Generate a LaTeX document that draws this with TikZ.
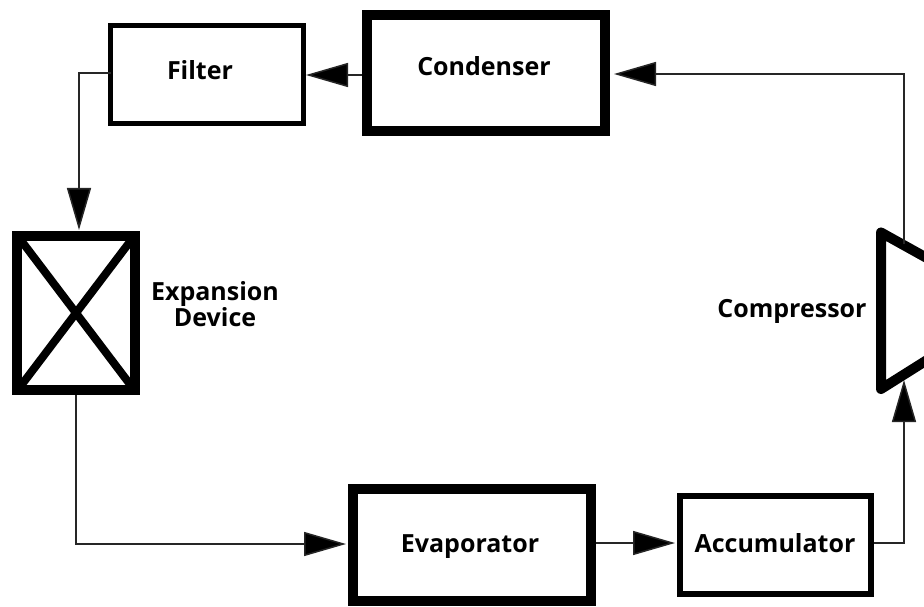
\documentclass[tikz,border=0pt]{standalone}
\usepackage{fontspec}
\setmainfont{Open Sans}
\usetikzlibrary{arrows.meta}

\begin{document}
\begin{tikzpicture}[x=1pt,y=-1pt,
  thinbox/.style={draw=black,line width=5pt,fill=white},
  thickbox/.style={draw=black,line width=10pt,fill=white},
  lbl/.style={font=\fontsize{25}{26}\selectfont\bfseries,anchor=base,inner sep=0pt},
  flow/.style={draw=black!85,line width=1.5pt,
    -{Triangle[length=42pt,width=24pt,fill=black]}},
]
\clip (0,0) rectangle (924,607);
\fill[white] (0,0) rectangle (924,607);

% components (corners at the centre line of each border)
\path[thinbox]  (110.5,25.5) rectangle (303.5,123.5);
\coordinate (filter-w) at (110.5,73);
\coordinate (filter-e) at (306,75);
\node[lbl] (filter) at (200,80) {Filter};

\path[thickbox] (367,15) rectangle (605,131);
\coordinate (cond-w) at (362,75);
\coordinate (cond-e) at (614,74);
\node[lbl] (condenser) at (484,76) {Condenser};

\path[thickbox] (17,236) rectangle (135,390);
\draw[line width=8pt] (20,239) -- (132,387) (132,239) -- (20,387);
\coordinate (exp-n) at (79,230);
\coordinate (exp-s) at (76,395);
\node[lbl,align=center] (expansion) at (215,326) {Expansion\\Device};

\path[thickbox] (353,489) rectangle (591,601);
\coordinate (evap-w) at (346,544);
\coordinate (evap-e) at (596,543);
\node[lbl] (evaporator) at (470,552) {Evaporator};

\path[draw=black,line width=6pt,fill=white] (680,496) rectangle (871,594);
\coordinate (acc-w) at (675,543);
\coordinate (acc-e) at (874,543);
\node[lbl] (accumulator) at (775,552) {Accumulator};

% compressor: trapezoid widening to the left
\draw[line width=10pt,line join=round,line cap=round,fill=white]
  (970,282) -- (881,232.5) -- (881,389) -- (970,333);
\coordinate (comp-out) at (904,244);
\coordinate (comp-in) at (904,380);
\node[lbl] (compressor) at (792,317) {Compressor};

% refrigerant loop
\coordinate (c1) at (79,73);
\coordinate (c2) at (76,544);
\coordinate (c3) at (904,543);
\coordinate (c4) at (904,74);
\draw[flow] (cond-w) -- (filter-e);
\draw[flow] (filter-w) -- (c1) -- (exp-n);
\draw[flow] (exp-s) -- (c2) -- (evap-w);
\draw[flow] (evap-e) -- (acc-w);
\draw[flow] (acc-e) -- (c3) -- (comp-in);
\draw[flow] (comp-out) -- (c4) -- (cond-e);
\end{tikzpicture}
\end{document}
